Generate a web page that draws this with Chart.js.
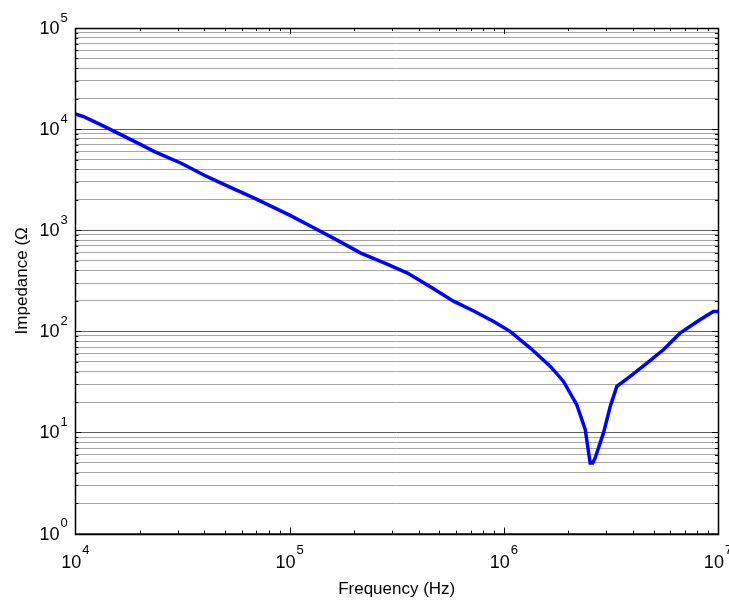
<!DOCTYPE html>
<html>
<head>
<meta charset="utf-8">
<script src="https://cdn.jsdelivr.net/npm/chart.js@4"></script>
<style>
  html, body { margin: 0; padding: 0; background: #ffffff; }
  #wrap { width: 729px; height: 603px; position: relative; }
</style>
</head>
<body>
<div id="wrap"><canvas id="c" width="729" height="603"></canvas></div>
<script>
// ---- data ----
const frequencyHz = [1.00e4, 1.10e4, 1.37e4, 1.64e4, 2.00e4, 2.34e4, 3.12e4, 4.00e4, 4.79e4, 6.84e4, 9.95e4,
  1.35e5, 1.70e5, 2.15e5, 2.80e5, 3.55e5, 4.50e5, 5.85e5, 7.20e5, 8.97e5, 1.07e6, 1.33e6, 1.65e6, 1.90e6, 2.19e6,
  2.40e6, 2.53e6, 2.60e6, 2.67e6, 2.92e6, 3.14e6, 3.37e6, 3.89e6, 4.66e6, 5.56e6,
  6.65e6, 8.24e6, 9.51e6, 1.00e7];
const impedanceOhm = [14100, 13200, 10600, 8770, 7100, 6000, 4600, 3500, 2920, 2075, 1420,
  1010, 780, 594, 470, 377, 280, 198, 160, 125, 100, 68.4, 45, 32, 18.8,
  10.7, 5.0, 5.0, 5.6, 9.9, 18.1, 28.6, 35.9, 48.6, 65.8,
  96, 130, 157, 157];
const xMajorTicks = [1e4, 1e5, 1e6, 1e7];
const xMajorLabels = ['4', '5', '6', '7'];
const yMajorTicks = [1, 10, 100, 1000, 10000, 100000];
const yMajorLabels = ['0', '1', '2', '3', '4', '5'];
const xTitle = 'Frequency (Hz)';
const yTitle = 'Impedance (\u03A9';

function logTicks(majors) {
  const out = [];
  for (let i = 0; i < majors.length; i++) {
    const m = majors[i];
    out.push(m);
    if (i < majors.length - 1) for (let k = 2; k <= 9; k++) out.push(m * k);
  }
  return out;
}
const isMajor = v => Math.abs(Math.log10(v) - Math.round(Math.log10(v))) < 1e-9;

const FONT = '"Liberation Sans", Arial, sans-serif';

const matlabAxes = {
  id: 'matlabAxes',
  afterDraw(chart) {
    const ctx = chart.ctx;
    const a = chart.chartArea;
    const xs = chart.scales.x, ys = chart.scales.y;
    ctx.save();
    ctx.strokeStyle = '#000';
    ctx.lineWidth = 1;
    // x ticks (bottom & top, inward)
    logTicks(xMajorTicks).forEach(v => {
      const px = Math.round(xs.getPixelForValue(v)) + 0.5;
      const len = isMajor(v) ? 6 : 3;
      ctx.beginPath();
      ctx.moveTo(px, a.bottom); ctx.lineTo(px, a.bottom - len);
      ctx.moveTo(px, a.top); ctx.lineTo(px, a.top + len);
      ctx.stroke();
    });
    // y ticks (left & right, inward)
    logTicks(yMajorTicks).forEach(v => {
      const py = Math.round(ys.getPixelForValue(v)) + 0.5;
      const len = isMajor(v) ? 6 : 3;
      ctx.beginPath();
      ctx.moveTo(a.left, py); ctx.lineTo(a.left + len, py);
      ctx.moveTo(a.right, py); ctx.lineTo(a.right - len, py);
      ctx.stroke();
    });
    // box
    ctx.lineWidth = 1.5;
    ctx.strokeRect(Math.round(a.left) + 0.5, Math.round(a.top) + 0.5,
      Math.round(a.right - a.left), Math.round(a.bottom - a.top));
    // tick labels 10^n
    ctx.fillStyle = '#000';
    ctx.textBaseline = 'middle';
    yMajorTicks.forEach((v, i) => {
      const py = ys.getPixelForValue(v);
      ctx.font = '18px ' + FONT;
      ctx.textAlign = 'right';
      ctx.fillText('10', a.left - 16, py + 1);
      ctx.font = '13px ' + FONT;
      ctx.textAlign = 'left';
      ctx.fillText(yMajorLabels[i], a.left - 15, py - 10);
    });
    xMajorTicks.forEach((v, i) => {
      const px = xs.getPixelForValue(v);
      ctx.font = '18px ' + FONT;
      const w10 = ctx.measureText('10').width;
      ctx.font = '13px ' + FONT;
      const we = ctx.measureText(xMajorLabels[i]).width;
      const start = px - (w10 + 1 + we) / 2;
      ctx.font = '18px ' + FONT;
      ctx.textAlign = 'left';
      ctx.fillText('10', start, a.bottom + 29);
      ctx.font = '13px ' + FONT;
      ctx.fillText(xMajorLabels[i], start + w10 + 1, a.bottom + 17);
    });
    ctx.restore();
  }
};

new Chart(document.getElementById('c'), {
  type: 'line',
  data: {
    datasets: [{
      data: frequencyHz.map((f, i) => ({ x: f, y: impedanceOhm[i] })),
      borderColor: '#0000ff',
      borderWidth: 3.5,
      pointRadius: 0,
      tension: 0,
      fill: false
    }]
  },
  options: {
    responsive: false,
    animation: false,
    devicePixelRatio: 1,
    layout: { padding: { left: 12, right: 11, top: 28, bottom: 0 } },
    plugins: { legend: { display: false }, tooltip: { enabled: false } },
    scales: {
      x: {
        type: 'logarithmic',
        min: 1e4, max: 1e7,
        afterBuildTicks: s => { s.ticks = logTicks(xMajorTicks).map(v => ({ value: v })); },
        ticks: { display: false },
        grid: { display: false, drawTicks: false },
        border: { display: false },
        title: { display: true, text: xTitle, color: '#000',
          font: { family: FONT, size: 17 }, padding: { top: 46, bottom: 3 } }
      },
      y: {
        type: 'logarithmic',
        min: 1, max: 1e5,
        afterBuildTicks: s => { s.ticks = logTicks(yMajorTicks).map(v => ({ value: v })); },
        ticks: { display: false },
        grid: {
          drawTicks: false,
          color: c => (c.tick && isMajor(c.tick.value)) ? '#5e5e5e' : '#a6a6a6',
          lineWidth: 1
        },
        border: { display: false },
        title: { display: true, text: yTitle, color: '#000',
          font: { family: FONT, size: 17 }, padding: { top: 0, bottom: 43 } }
      }
    }
  },
  plugins: [matlabAxes]
});
</script>
</body>
</html>
